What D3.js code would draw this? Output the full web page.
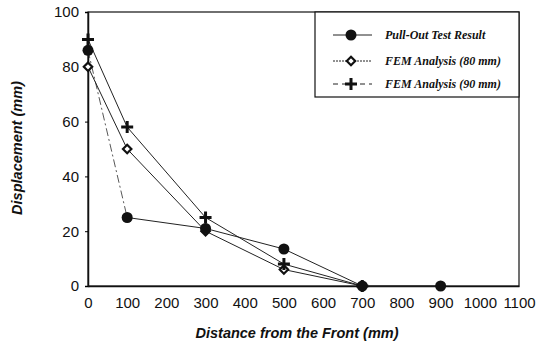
<!DOCTYPE html>
<html>
<head>
<meta charset="utf-8">
<script src="https://cdn.jsdelivr.net/npm/d3@7"></script>
<style>
  body { margin: 0; background: #fff; }
  .tick text { font-family: "Liberation Sans", Arial, sans-serif; font-size: 15px; fill: #111; }
  .axis-title { font-family: "Liberation Sans", Arial, sans-serif; font-size: 14.5px; font-weight: bold; font-style: italic; fill: #111; }
  .legend text { font-family: "Liberation Serif", "Times New Roman", serif; font-size: 12px; font-weight: bold; font-style: italic; fill: #111; }
</style>
</head>
<body>
<div id="chart"></div>
<script>
// data
let distance = [0, 100, 300, 500, 700, 900];
let pullOut = [86, 25, 21, 13.5, 0, 0];
let fem80 = [80, 50, 20, 6, 0];
let fem90 = [90, 58, 25, 8, 0];
let seriesNames = ["Pull-Out Test Result", "FEM Analysis (80 mm)", "FEM Analysis (90 mm)"];
let xTicks = [0, 100, 200, 300, 400, 500, 600, 700, 800, 900, 1000, 1100];
let yTicks = [0, 20, 40, 60, 80, 100];

let width = 539, height = 345;
let margin = {top: 12, right: 20, bottom: 59, left: 88};

let svg = d3.select("#chart").append("svg")
    .attr("width", width)
    .attr("height", height);

let x = d3.scaleLinear().domain([0, 1100]).range([margin.left, width - margin.right]);
let y = d3.scaleLinear().domain([0, 100]).range([height - margin.bottom, margin.top]);

// plot frame
svg.append("rect")
    .attr("x", x(0))
    .attr("y", y(100))
    .attr("width", x(1100) - x(0))
    .attr("height", y(0) - y(100))
    .attr("fill", "none")
    .attr("stroke", "#111")
    .attr("stroke-width", 1.2);

// axes
let xAxis = d3.axisBottom(x).tickValues(xTicks).tickFormat(d3.format("d")).tickSize(0).tickPadding(11);
let yAxis = d3.axisLeft(y).tickValues(yTicks).tickSize(3).tickPadding(6);

svg.append("g")
    .attr("transform", `translate(0, ${y(0)})`)
    .call(xAxis)
    .call(g => g.select(".domain").attr("stroke", "#111").attr("stroke-width", 1.5));

svg.append("g")
    .attr("transform", `translate(${x(0)}, 0)`)
    .call(yAxis)
    .call(g => g.select(".domain").attr("stroke", "#111").attr("stroke-width", 1.5));

// axis titles
svg.append("text")
    .attr("class", "axis-title")
    .attr("x", 297)
    .attr("y", 338)
    .attr("text-anchor", "middle")
    .text("Distance from the Front (mm)");

svg.append("text")
    .attr("class", "axis-title")
    .attr("transform", "translate(22, 148) rotate(-90)")
    .attr("text-anchor", "middle")
    .text("Displacement (mm)");

// build point lists
let pts = (vals) => vals.map((v, i) => ({x: distance[i], y: v}));
let series = [
    {name: seriesNames[0], points: pts(pullOut), marker: "circle"},
    {name: seriesNames[1], points: pts(fem80), marker: "diamond"},
    {name: seriesNames[2], points: pts(fem90), marker: "cross"}
];

let line = d3.line().x(d => x(d.x)).y(d => y(d.y));

// lines: pull-out first segment is dash-dot, everything else thin solid
series.forEach(s => {
    if (s.marker === "circle") {
        svg.append("path")
            .attr("d", line(s.points.slice(0, 2)))
            .attr("fill", "none")
            .attr("stroke", "#444")
            .attr("stroke-width", 0.9)
            .attr("stroke-dasharray", "8,3,2,3");
        svg.append("path")
            .attr("d", line(s.points.slice(1)))
            .attr("fill", "none")
            .attr("stroke", "#222")
            .attr("stroke-width", 1);
    } else {
        svg.append("path")
            .attr("d", line(s.points))
            .attr("fill", "none")
            .attr("stroke", "#222")
            .attr("stroke-width", 1);
    }
});

// marker drawing
function drawMarker(g, type, cx, cy) {
    if (type === "circle") {
        g.append("circle").attr("cx", cx).attr("cy", cy).attr("r", 5.5).attr("fill", "#111");
    } else if (type === "diamond") {
        g.append("path")
            .attr("d", d3.symbol().type(d3.symbolDiamond2).size(45)())
            .attr("transform", `translate(${cx}, ${cy})`)
            .attr("fill", "#fff")
            .attr("stroke", "#111")
            .attr("stroke-width", 2.2);
    } else {
        g.append("path")
            .attr("d", `M${cx - 6},${cy}H${cx + 6}M${cx},${cy - 6}V${cy + 6}`)
            .attr("stroke", "#111")
            .attr("stroke-width", 3);
    }
}

let markers = svg.append("g");
[series[1], series[2], series[0]].forEach(s => {
    s.points.forEach(p => drawMarker(markers, s.marker, x(p.x), y(p.y)));
});

// legend
let legend = svg.append("g").attr("class", "legend");
legend.append("rect")
    .attr("x", 315)
    .attr("y", y(100))
    .attr("width", x(1100) - 315)
    .attr("height", 85)
    .attr("fill", "#fff")
    .attr("stroke", "#111")
    .attr("stroke-width", 1.2);

let legendY = [35, 61, 84];
let dashes = [null, "2,1", "5,4"];
series.forEach((s, i) => {
    legend.append("line")
        .attr("x1", 333).attr("x2", 372)
        .attr("y1", legendY[i]).attr("y2", legendY[i])
        .attr("stroke", "#222")
        .attr("stroke-width", 1)
        .attr("stroke-dasharray", dashes[i]);
    drawMarker(legend, s.marker, 351, legendY[i]);
    legend.append("text")
        .attr("x", 385)
        .attr("y", legendY[i] + 4)
        .text(s.name);
});
</script>
</body>
</html>
